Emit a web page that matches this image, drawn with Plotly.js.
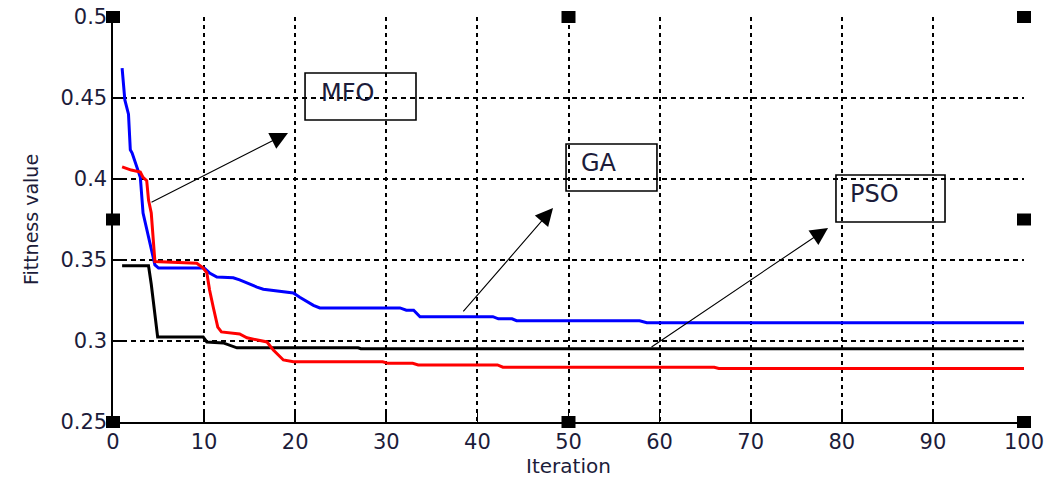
<!DOCTYPE html>
<html>
<head>
<meta charset="utf-8">
<script src="https://cdn.plot.ly/plotly-3.0.1.min.js"></script>
<style>
html,body{margin:0;padding:0;background:#fff;}
#chart{width:1053px;height:488px;}
</style>
</head>
<body>
<div id="chart"></div>
<script>
// ---- data ----
const gaIter = [1, 1.2, 1.3, 1.7, 1.9, 2.1, 3, 3.3, 4.1, 4.6, 5, 10, 10.6, 11.4, 13.2, 13.9, 15.8, 16.5, 19.8, 20.5, 22, 22.7, 31.5, 32.2, 33, 33.7, 41.7, 42.3, 43.8, 44.3, 57.8, 58.6, 100];
const gaFit  = [0.4685, 0.456, 0.4488, 0.440, 0.418, 0.416, 0.401, 0.379, 0.358, 0.347, 0.345, 0.345, 0.342, 0.3395, 0.339, 0.3377, 0.3333, 0.332, 0.3296, 0.327, 0.322, 0.3204, 0.3204, 0.319, 0.319, 0.315, 0.315, 0.3137, 0.3137, 0.3125, 0.3125, 0.3113, 0.3113];

const mfoIter = [1, 2, 3, 3.3, 3.7, 3.9, 4.2, 4.4, 4.6, 9.2, 9.9, 10.3, 10.6, 11, 11.5, 11.9, 13.9, 14.7, 16.9, 17.6, 18.7, 19.8, 29.6, 30.2, 32.9, 33.5, 42.2, 42.8, 66, 66.5, 100];
const mfoFit  = [0.4075, 0.4055, 0.4043, 0.401, 0.399, 0.387, 0.379, 0.362, 0.349, 0.348, 0.345, 0.342, 0.3315, 0.321, 0.3086, 0.3056, 0.3043, 0.302, 0.2994, 0.2944, 0.2883, 0.2872, 0.2872, 0.2862, 0.2862, 0.2852, 0.2852, 0.2838, 0.2838, 0.2831, 0.2831];

const psoIter = [1, 3.9, 4.2, 4.5, 4.9, 9.9, 10.3, 12.1, 13.2, 13.6, 26.9, 27.2, 100];
const psoFit  = [0.3465, 0.3465, 0.335, 0.32, 0.3025, 0.3025, 0.2994, 0.2988, 0.2963, 0.2958, 0.2958, 0.2952, 0.2952];

const xTicks = [0, 10, 20, 30, 40, 50, 60, 70, 80, 90, 100];
const yTicks = [0.25, 0.3, 0.35, 0.4, 0.45, 0.5];
const yTickText = ['0.25', '0.3', '0.35', '0.4', '0.45', '0.5'];

const labels = ['MFO', 'GA', 'PSO'];

// ---- layout helpers (positions/styles) ----
const FONT = 'DejaVu Sans, Arial, sans-serif';
const TXT = '#1c1c3a';

const traces = [
  {x: gaIter, y: gaFit, mode: 'lines', line: {color: '#0000ff', width: 3}, name: labels[1], hoverinfo: 'skip'},
  {x: psoIter, y: psoFit, mode: 'lines', line: {color: '#000000', width: 3}, name: labels[2], hoverinfo: 'skip'},
  {x: mfoIter, y: mfoFit, mode: 'lines', line: {color: '#ff0000', width: 3}, name: labels[0], hoverinfo: 'skip'}
];

// boxes for the labels (data coords)
const boxes = [
  {x0: 21.08, x1: 33.26, y0: 0.4364, y1: 0.4654},
  {x0: 49.73, x1: 59.71, y0: 0.3926, y1: 0.4216},
  {x0: 79.36, x1: 91.33, y0: 0.3735, y1: 0.4025}
];
const labelPos = [
  {x: 22.6, y: 0.4530},
  {x: 51.2, y: 0.4098},
  {x: 80.7, y: 0.3909}
];
const arrows = [
  {tail: [4.06, 0.3852], tip: [19.21, 0.4284]},
  {tail: [38.31, 0.3173], tip: [48.30, 0.3821]},
  {tail: [58.95, 0.2957], tip: [78.49, 0.3698]}
];

const shapes = [];
boxes.forEach(b => shapes.push({type: 'rect', xref: 'x', yref: 'y', x0: b.x0, x1: b.x1, y0: b.y0, y1: b.y1,
  line: {color: '#000', width: 1.6}, fillcolor: 'rgba(0,0,0,0)', layer: 'above'}));

// selection handles
const handleAnchors = [[0,1],[0.5,1],[1,1],[0,0.5],[1,0.5],[0,0],[0.5,0],[1,0]];
handleAnchors.forEach(a => shapes.push({type: 'rect', xref: 'paper', yref: 'paper',
  xsizemode: 'pixel', ysizemode: 'pixel', xanchor: a[0], yanchor: a[1],
  x0: -7, x1: 7, y0: -6, y1: 6, fillcolor: '#000', line: {width: 0}, layer: 'above'}));

const annotations = [];
labels.forEach((t, i) => annotations.push({x: labelPos[i].x, y: labelPos[i].y, xref: 'x', yref: 'y',
  text: t, showarrow: false, xanchor: 'left', yanchor: 'middle',
  font: {family: FONT, size: 24, color: TXT}}));
arrows.forEach(a => annotations.push({x: a.tip[0], y: a.tip[1], ax: a.tail[0], ay: a.tail[1],
  xref: 'x', yref: 'y', axref: 'x', ayref: 'y', text: '', showarrow: true,
  arrowhead: 2, arrowsize: 3.2, arrowwidth: 1.1, arrowcolor: '#000'}));

const layout = {
  width: 1053, height: 488,
  margin: {l: 113, r: 29, t: 17, b: 66},
  paper_bgcolor: '#fff', plot_bgcolor: '#fff',
  showlegend: false,
  xaxis: {
    range: [0, 100], tickvals: xTicks, ticktext: xTicks.map(String),
    showgrid: true, gridcolor: '#000', griddash: '4px,4px', gridwidth: 2,
    showline: true, linecolor: '#000', linewidth: 1.6, zeroline: false,
    ticks: 'inside', ticklen: 10, tickcolor: '#000', tickwidth: 1.6,
    tickfont: {family: FONT, size: 21, color: TXT},
    title: {text: 'Iteration', font: {family: FONT, size: 20, color: TXT}, standoff: 3},
    automargin: false
  },
  yaxis: {
    range: [0.25, 0.5], tickvals: yTicks, ticktext: yTickText,
    showgrid: true, gridcolor: '#000', griddash: '5px,4px', gridwidth: 2,
    showline: true, linecolor: '#000', linewidth: 1.6, zeroline: false,
    ticks: 'inside', ticklen: 9, tickcolor: '#000', tickwidth: 1.6,
    tickfont: {family: FONT, size: 21, color: TXT},
    title: {text: 'Fittness value', font: {family: FONT, size: 19, color: TXT}, standoff: 17},
    automargin: false
  },
  shapes: shapes,
  annotations: annotations
};

Plotly.newPlot('chart', traces, layout, {displayModeBar: false, staticPlot: true});
</script>
</body>
</html>
